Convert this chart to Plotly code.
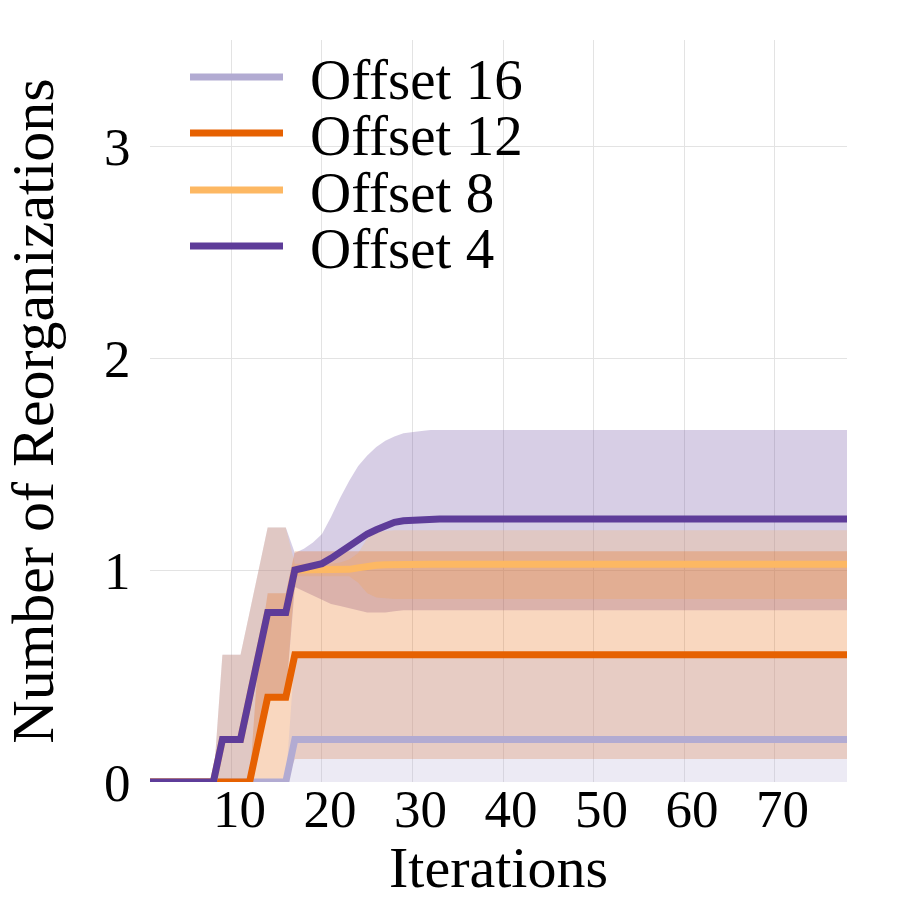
import plotly.graph_objects as go

# ---------------- data ----------------
iterations = list(range(1, 79))

series_names = ["Offset 16", "Offset 12", "Offset 8", "Offset 4"]
series_colors = ["#b2abd2", "#e66101", "#fdb863", "#5e3c99"]
band_colors = ["rgba(178,171,210,0.25)", "rgba(230,97,1,0.25)",
               "rgba(253,184,99,0.25)", "rgba(94,60,153,0.25)"]

# Offset 16
mean_16 = [0, 0, 0, 0, 0, 0, 0, 0, 0, 0, 0, 0, 0, 0, 0, 0, 0.2, 0.2, 0.2, 0.2,
           0.2, 0.2, 0.2, 0.2, 0.2, 0.2, 0.2, 0.2, 0.2, 0.2, 0.2, 0.2, 0.2, 0.2, 0.2, 0.2,
           0.2, 0.2, 0.2, 0.2, 0.2, 0.2, 0.2, 0.2, 0.2, 0.2, 0.2, 0.2, 0.2, 0.2, 0.2, 0.2,
           0.2, 0.2, 0.2, 0.2, 0.2, 0.2, 0.2, 0.2, 0.2, 0.2, 0.2, 0.2, 0.2, 0.2, 0.2, 0.2,
           0.2, 0.2, 0.2, 0.2, 0.2, 0.2, 0.2, 0.2, 0.2, 0.2]
upper_16 = [0, 0, 0, 0, 0, 0, 0, 0, 0, 0, 0, 0, 0, 0, 0, 0, 0.6, 0.6, 0.6, 0.6,
            0.6, 0.6, 0.6, 0.6, 0.6, 0.6, 0.6, 0.6, 0.6, 0.6, 0.6, 0.6, 0.6, 0.6, 0.6, 0.6,
            0.6, 0.6, 0.6, 0.6, 0.6, 0.6, 0.6, 0.6, 0.6, 0.6, 0.6, 0.6, 0.6, 0.6, 0.6, 0.6,
            0.6, 0.6, 0.6, 0.6, 0.6, 0.6, 0.6, 0.6, 0.6, 0.6, 0.6, 0.6, 0.6, 0.6, 0.6, 0.6,
            0.6, 0.6, 0.6, 0.6, 0.6, 0.6, 0.6, 0.6, 0.6, 0.6]
lower_16 = [0, 0, 0, 0, 0, 0, 0, 0, 0, 0, 0, 0, 0, 0, 0, 0, 0, 0, 0, 0,
            0, 0, 0, 0, 0, 0, 0, 0, 0, 0, 0, 0, 0, 0, 0, 0,
            0, 0, 0, 0, 0, 0, 0, 0, 0, 0, 0, 0, 0, 0, 0, 0,
            0, 0, 0, 0, 0, 0, 0, 0, 0, 0, 0, 0, 0, 0, 0, 0,
            0, 0, 0, 0, 0, 0, 0, 0, 0, 0]

# Offset 12
mean_12 = [0, 0, 0, 0, 0, 0, 0, 0, 0, 0, 0, 0, 0.2, 0.4, 0.4, 0.4, 0.6, 0.6, 0.6, 0.6,
           0.6, 0.6, 0.6, 0.6, 0.6, 0.6, 0.6, 0.6, 0.6, 0.6, 0.6, 0.6, 0.6, 0.6, 0.6, 0.6,
           0.6, 0.6, 0.6, 0.6, 0.6, 0.6, 0.6, 0.6, 0.6, 0.6, 0.6, 0.6, 0.6, 0.6, 0.6, 0.6,
           0.6, 0.6, 0.6, 0.6, 0.6, 0.6, 0.6, 0.6, 0.6, 0.6, 0.6, 0.6, 0.6, 0.6, 0.6, 0.6,
           0.6, 0.6, 0.6, 0.6, 0.6, 0.6, 0.6, 0.6, 0.6, 0.6]
upper_12 = [0, 0, 0, 0, 0, 0, 0, 0, 0, 0, 0, 0, 0.6, 0.89, 0.89, 0.89, 1.088, 1.088, 1.088, 1.088,
            1.088, 1.088, 1.088, 1.088, 1.088, 1.088, 1.088, 1.088, 1.088, 1.088, 1.088, 1.088,
            1.088, 1.088, 1.088, 1.088, 1.088, 1.088, 1.088, 1.088, 1.088, 1.088, 1.088, 1.088,
            1.088, 1.088, 1.088, 1.088, 1.088, 1.088, 1.088, 1.088, 1.088, 1.088, 1.088, 1.088,
            1.088, 1.088, 1.088, 1.088, 1.088, 1.088, 1.088, 1.088, 1.088, 1.088, 1.088, 1.088,
            1.088, 1.088, 1.088, 1.088, 1.088, 1.088, 1.088, 1.088, 1.088, 1.088]
lower_12 = [0, 0, 0, 0, 0, 0, 0, 0, 0, 0, 0, 0, 0, 0, 0, 0, 0.108, 0.108, 0.108, 0.108,
            0.108, 0.108, 0.108, 0.108, 0.108, 0.108, 0.108, 0.108, 0.108, 0.108, 0.108, 0.108,
            0.108, 0.108, 0.108, 0.108, 0.108, 0.108, 0.108, 0.108, 0.108, 0.108, 0.108, 0.108,
            0.108, 0.108, 0.108, 0.108, 0.108, 0.108, 0.108, 0.108, 0.108, 0.108, 0.108, 0.108,
            0.108, 0.108, 0.108, 0.108, 0.108, 0.108, 0.108, 0.108, 0.108, 0.108, 0.108, 0.108,
            0.108, 0.108, 0.108, 0.108, 0.108, 0.108, 0.108, 0.108, 0.108, 0.108]

# Offset 8
mean_8 = [0, 0, 0, 0, 0, 0, 0, 0, 0.2, 0.2, 0.2, 0.4, 0.6, 0.8, 0.8, 0.8, 1.0, 1.0, 1.0, 1.0,
          1.0, 1.0, 1.003, 1.01, 1.02, 1.022, 1.025, 1.027, 1.027, 1.027, 1.027, 1.027,
          1.027, 1.027, 1.027, 1.027, 1.027, 1.027, 1.027, 1.027, 1.027, 1.027, 1.027, 1.027,
          1.027, 1.027, 1.027, 1.027, 1.027, 1.027, 1.027, 1.027, 1.027, 1.027, 1.027, 1.027,
          1.027, 1.027, 1.027, 1.027, 1.027, 1.027, 1.027, 1.027, 1.027, 1.027, 1.027, 1.027,
          1.027, 1.027, 1.027, 1.027, 1.027, 1.027, 1.027, 1.027, 1.027, 1.027]
upper_8 = [0, 0, 0, 0, 0, 0, 0, 0, 0.6, 0.6, 0.6, 0.8, 1.0, 1.2, 1.2, 1.2, 1.03, 1.03, 1.03, 1.03,
           1.03, 1.035, 1.05, 1.08, 1.15, 1.18, 1.185, 1.187, 1.187, 1.187, 1.187, 1.187,
           1.187, 1.187, 1.187, 1.187, 1.187, 1.187, 1.187, 1.187, 1.187, 1.187, 1.187, 1.187,
           1.187, 1.187, 1.187, 1.187, 1.187, 1.187, 1.187, 1.187, 1.187, 1.187, 1.187, 1.187,
           1.187, 1.187, 1.187, 1.187, 1.187, 1.187, 1.187, 1.187, 1.187, 1.187, 1.187, 1.187,
           1.187, 1.187, 1.187, 1.187, 1.187, 1.187, 1.187, 1.187, 1.187, 1.187]
lower_8 = [0, 0, 0, 0, 0, 0, 0, 0, 0, 0, 0, 0, 0.2, 0.4, 0.4, 0.4, 0.97, 0.97, 0.97, 0.97,
           0.97, 0.97, 0.97, 0.94, 0.89, 0.87, 0.865, 0.863, 0.863, 0.863, 0.863, 0.863,
           0.863, 0.863, 0.863, 0.863, 0.863, 0.863, 0.863, 0.863, 0.863, 0.863, 0.863, 0.863,
           0.863, 0.863, 0.863, 0.863, 0.863, 0.863, 0.863, 0.863, 0.863, 0.863, 0.863, 0.863,
           0.863, 0.863, 0.863, 0.863, 0.863, 0.863, 0.863, 0.863, 0.863, 0.863, 0.863, 0.863,
           0.863, 0.863, 0.863, 0.863, 0.863, 0.863, 0.863, 0.863, 0.863, 0.863]

# Offset 4
mean_4 = [0, 0, 0, 0, 0, 0, 0, 0, 0.2, 0.2, 0.2, 0.4, 0.6, 0.8, 0.8, 0.8, 1.0, 1.01, 1.02, 1.03,
          1.055, 1.085, 1.12, 1.145, 1.17, 1.19, 1.21, 1.225, 1.232, 1.236, 1.238, 1.24,
          1.24, 1.24, 1.24, 1.24, 1.24, 1.24, 1.24, 1.24, 1.24, 1.24, 1.24, 1.24,
          1.24, 1.24, 1.24, 1.24, 1.24, 1.24, 1.24, 1.24, 1.24, 1.24, 1.24, 1.24,
          1.24, 1.24, 1.24, 1.24, 1.24, 1.24, 1.24, 1.24, 1.24, 1.24, 1.24, 1.24,
          1.24, 1.24, 1.24, 1.24, 1.24, 1.24, 1.24, 1.24, 1.24, 1.24]
upper_4 = [0, 0, 0, 0, 0, 0, 0, 0, 0.6, 0.6, 0.6, 0.8, 1.0, 1.2, 1.2, 1.2, 1.08, 1.1, 1.13, 1.17,
           1.25, 1.34, 1.42, 1.49, 1.54, 1.58, 1.61, 1.63, 1.645, 1.652, 1.656, 1.66,
           1.66, 1.66, 1.66, 1.66, 1.66, 1.66, 1.66, 1.66, 1.66, 1.66, 1.66, 1.66,
           1.66, 1.66, 1.66, 1.66, 1.66, 1.66, 1.66, 1.66, 1.66, 1.66, 1.66, 1.66,
           1.66, 1.66, 1.66, 1.66, 1.66, 1.66, 1.66, 1.66, 1.66, 1.66, 1.66, 1.66,
           1.66, 1.66, 1.66, 1.66, 1.66, 1.66, 1.66, 1.66, 1.66, 1.66]
lower_4 = [0, 0, 0, 0, 0, 0, 0, 0, 0, 0, 0, 0, 0.2, 0.4, 0.4, 0.4, 0.92, 0.9, 0.88, 0.86,
           0.84, 0.83, 0.82, 0.81, 0.8, 0.8, 0.8, 0.805, 0.81, 0.81, 0.81, 0.81,
           0.81, 0.81, 0.81, 0.81, 0.81, 0.81, 0.81, 0.81, 0.81, 0.81, 0.81, 0.81,
           0.81, 0.81, 0.81, 0.81, 0.81, 0.81, 0.81, 0.81, 0.81, 0.81, 0.81, 0.81,
           0.81, 0.81, 0.81, 0.81, 0.81, 0.81, 0.81, 0.81, 0.81, 0.81, 0.81, 0.81,
           0.81, 0.81, 0.81, 0.81, 0.81, 0.81, 0.81, 0.81, 0.81, 0.81]

means = [mean_16, mean_12, mean_8, mean_4]
uppers = [upper_16, upper_12, upper_8, upper_4]
lowers = [lower_16, lower_12, lower_8, lower_4]

x_tick_vals = [10, 20, 30, 40, 50, 60, 70]
y_tick_vals = [0, 1, 2, 3]

FONT = "Liberation Serif"

fig = go.Figure()

# bands first (drawn from Offset 4 back to Offset 16)
for i in reversed(range(len(series_names))):
    fig.add_trace(go.Scatter(x=iterations, y=lowers[i], mode="lines", line=dict(width=0),
                             hoverinfo="skip", showlegend=False))
    fig.add_trace(go.Scatter(x=iterations, y=uppers[i], mode="lines", line=dict(width=0),
                             fill="tonexty", fillcolor=band_colors[i], hoverinfo="skip",
                             showlegend=False, name=series_names[i] + " band"))

# mean lines on top
for name, c, m in zip(series_names, series_colors, means):
    fig.add_trace(go.Scatter(x=iterations, y=m, mode="lines", name=name,
                             line=dict(color=c, width=7), showlegend=False))

# custom legend (white box, line samples, labels)
L, R, T, B = 150, 53, 40, 118
PW, PH = 900 - L - R, 900 - T - B

def px_x(p):
    return (p - L) / PW

def px_y(p):
    return (900 - B - p) / PH

shapes = [dict(type="rect", xref="paper", yref="paper",
               x0=px_x(160), x1=px_x(556), y0=px_y(267), y1=px_y(47),
               fillcolor="white", line=dict(width=0), layer="between")]
annotations = []
rows = [77, 133, 190, 246]
for name, c, r in zip(series_names, series_colors, rows):
    shapes.append(dict(type="line", xref="paper", yref="paper",
                       x0=px_x(190), x1=px_x(283), y0=px_y(r), y1=px_y(r),
                       line=dict(color=c, width=7), layer="above"))
    annotations.append(dict(text=name, xref="paper", yref="paper",
                            x=px_x(308), y=px_y(r + 2), xanchor="left", yanchor="middle",
                            height=52, valign="middle",
                            showarrow=False, font=dict(family=FONT, size=57, color="black")))

fig.update_layout(
    width=900, height=900,
    margin=dict(l=L, r=R, t=T, b=B, autoexpand=False),
    paper_bgcolor="white", plot_bgcolor="white",
    showlegend=False,
    shapes=shapes, annotations=annotations,
    font=dict(family=FONT, color="black"),
)
fig.update_xaxes(range=[1, 78], tickvals=x_tick_vals, showgrid=True, gridcolor="#e3e3e3",
                 gridwidth=1, zeroline=False, showline=False, automargin=False,
                 ticks="", ticklabelstandoff=-9,
                 ticklabelshift=8,
                 tickfont=dict(family=FONT, size=53),
                 title=dict(text="Iterations", font=dict(family=FONT, size=58), standoff=0))
fig.update_yaxes(range=[0, 3.5], tickvals=y_tick_vals, showgrid=True, gridcolor="#e3e3e3",
                 gridwidth=1, zeroline=False, showline=False, automargin=False,
                 ticks="outside", ticklen=8, tickcolor="rgba(0,0,0,0)",
                 tickfont=dict(family=FONT, size=53),
                 title=dict(text="Number of Reorganizations", font=dict(family=FONT, size=60),
                            standoff=41))

fig.write_html("out.html")
